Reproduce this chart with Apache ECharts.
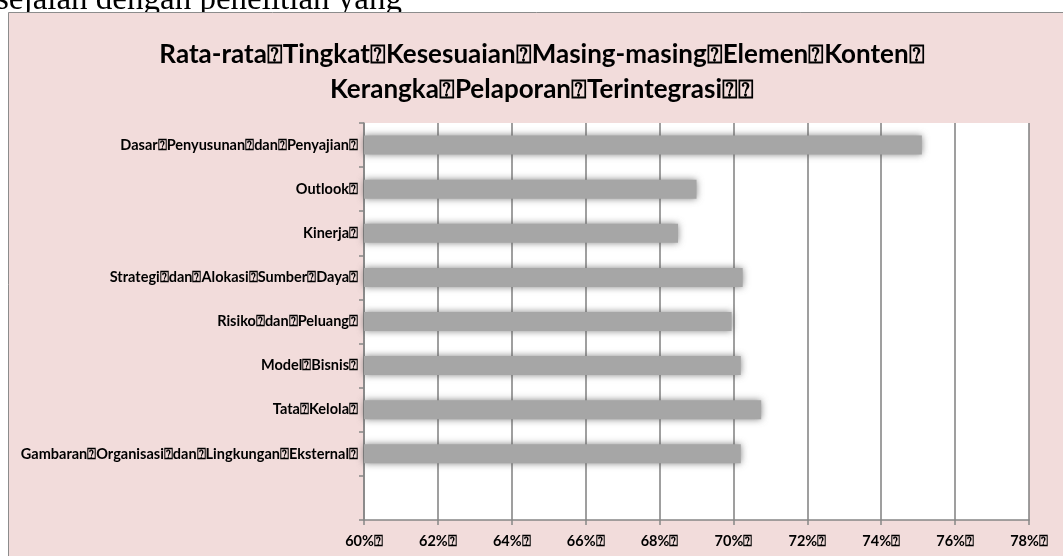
<!DOCTYPE html>
<html>
<head>
<meta charset="utf-8">
<script src="https://cdn.jsdelivr.net/npm/echarts@6/dist/echarts.min.js"></script>
<style>
html,body{margin:0;padding:0;background:#fff;}
#chart{width:1063px;height:556px;}
</style>
</head>
<body>
<div id="chart"></div>
<script>
const B = '\u2370';
const titleLines = [
  'Rata-rata' + B + 'Tingkat' + B + 'Kesesuaian' + B + 'Masing-masing' + B + 'Elemen' + B + 'Konten' + B,
  'Kerangka' + B + 'Pelaporan' + B + 'Terintegrasi' + B + B
];
const docText = 'sejalan dengan penelitian yang';
const categories = [
  'Dasar' + B + 'Penyusunan' + B + 'dan' + B + 'Penyajian' + B,
  'Outlook' + B,
  'Kinerja' + B,
  'Strategi' + B + 'dan' + B + 'Alokasi' + B + 'Sumber' + B + 'Daya' + B,
  'Risiko' + B + 'dan' + B + 'Peluang' + B,
  'Model' + B + 'Bisnis' + B,
  'Tata' + B + 'Kelola' + B,
  'Gambaran' + B + 'Organisasi' + B + 'dan' + B + 'Lingkungan' + B + 'Eksternal' + B,
  ''
];
const values = [75.1, 69.0, 68.5, 70.25, 69.95, 70.2, 70.75, 70.2, null];
const xMin = 60, xMax = 78, xStep = 2;

const chart = echarts.init(document.getElementById('chart'), null, {renderer: 'canvas'});
const FONT = 'Lato';
chart.setOption({
  animation: false,
  backgroundColor: '#ffffff',
  graphic: [
    {type: 'text', z: -30, style: {text: docText, x: -4, y: 17, font: '33px "Liberation Serif"', fill: '#000', verticalAlign: 'bottom'}},
    {type: 'rect', z: -20, shape: {x: 8.5, y: 12.5, width: 1060, height: 560}, style: {fill: '#F2DCDB', stroke: '#8C8C8C', lineWidth: 1}}
  ],
  title: {
    text: titleLines.join('\n'),
    left: 537,
    top: 32,
    textAlign: 'center',
    textStyle: {fontFamily: FONT, fontWeight: 'bold', fontSize: 26, lineHeight: 35, color: '#000'}
  },
  grid: {
    left: 364, right: 34, top: 123, bottom: 36,
    show: true, backgroundColor: '#ffffff', borderWidth: 0
  },
  xAxis: {
    type: 'value', min: xMin, max: xMax, interval: xStep,
    axisLine: {show: true, lineStyle: {color: '#868686', width: 1.5}},
    axisTick: {show: true, length: 5, lineStyle: {color: '#868686', width: 1.5}},
    splitLine: {show: true, lineStyle: {color: '#7F7F7F', width: 1.5}},
    axisLabel: {formatter: v => v + '%' + B, margin: 14, fontFamily: FONT, fontWeight: 'bold', fontSize: 14.5, color: '#000'}
  },
  yAxis: {
    type: 'category', data: categories, inverse: true,
    axisLine: {show: true, lineStyle: {color: '#868686', width: 1.5}},
    axisTick: {show: true, length: 5, lineStyle: {color: '#868686', width: 1.5}},
    splitLine: {show: false},
    axisLabel: {margin: 6, fontFamily: FONT, fontWeight: 'bold', fontSize: 14.5, color: '#000'}
  },
  series: [{
    type: 'bar', data: values, barWidth: 19,
    itemStyle: {color: '#A6A6A6', shadowColor: 'rgba(90,90,90,0.75)', shadowBlur: 7}
  }]
});
</script>
</body>
</html>
